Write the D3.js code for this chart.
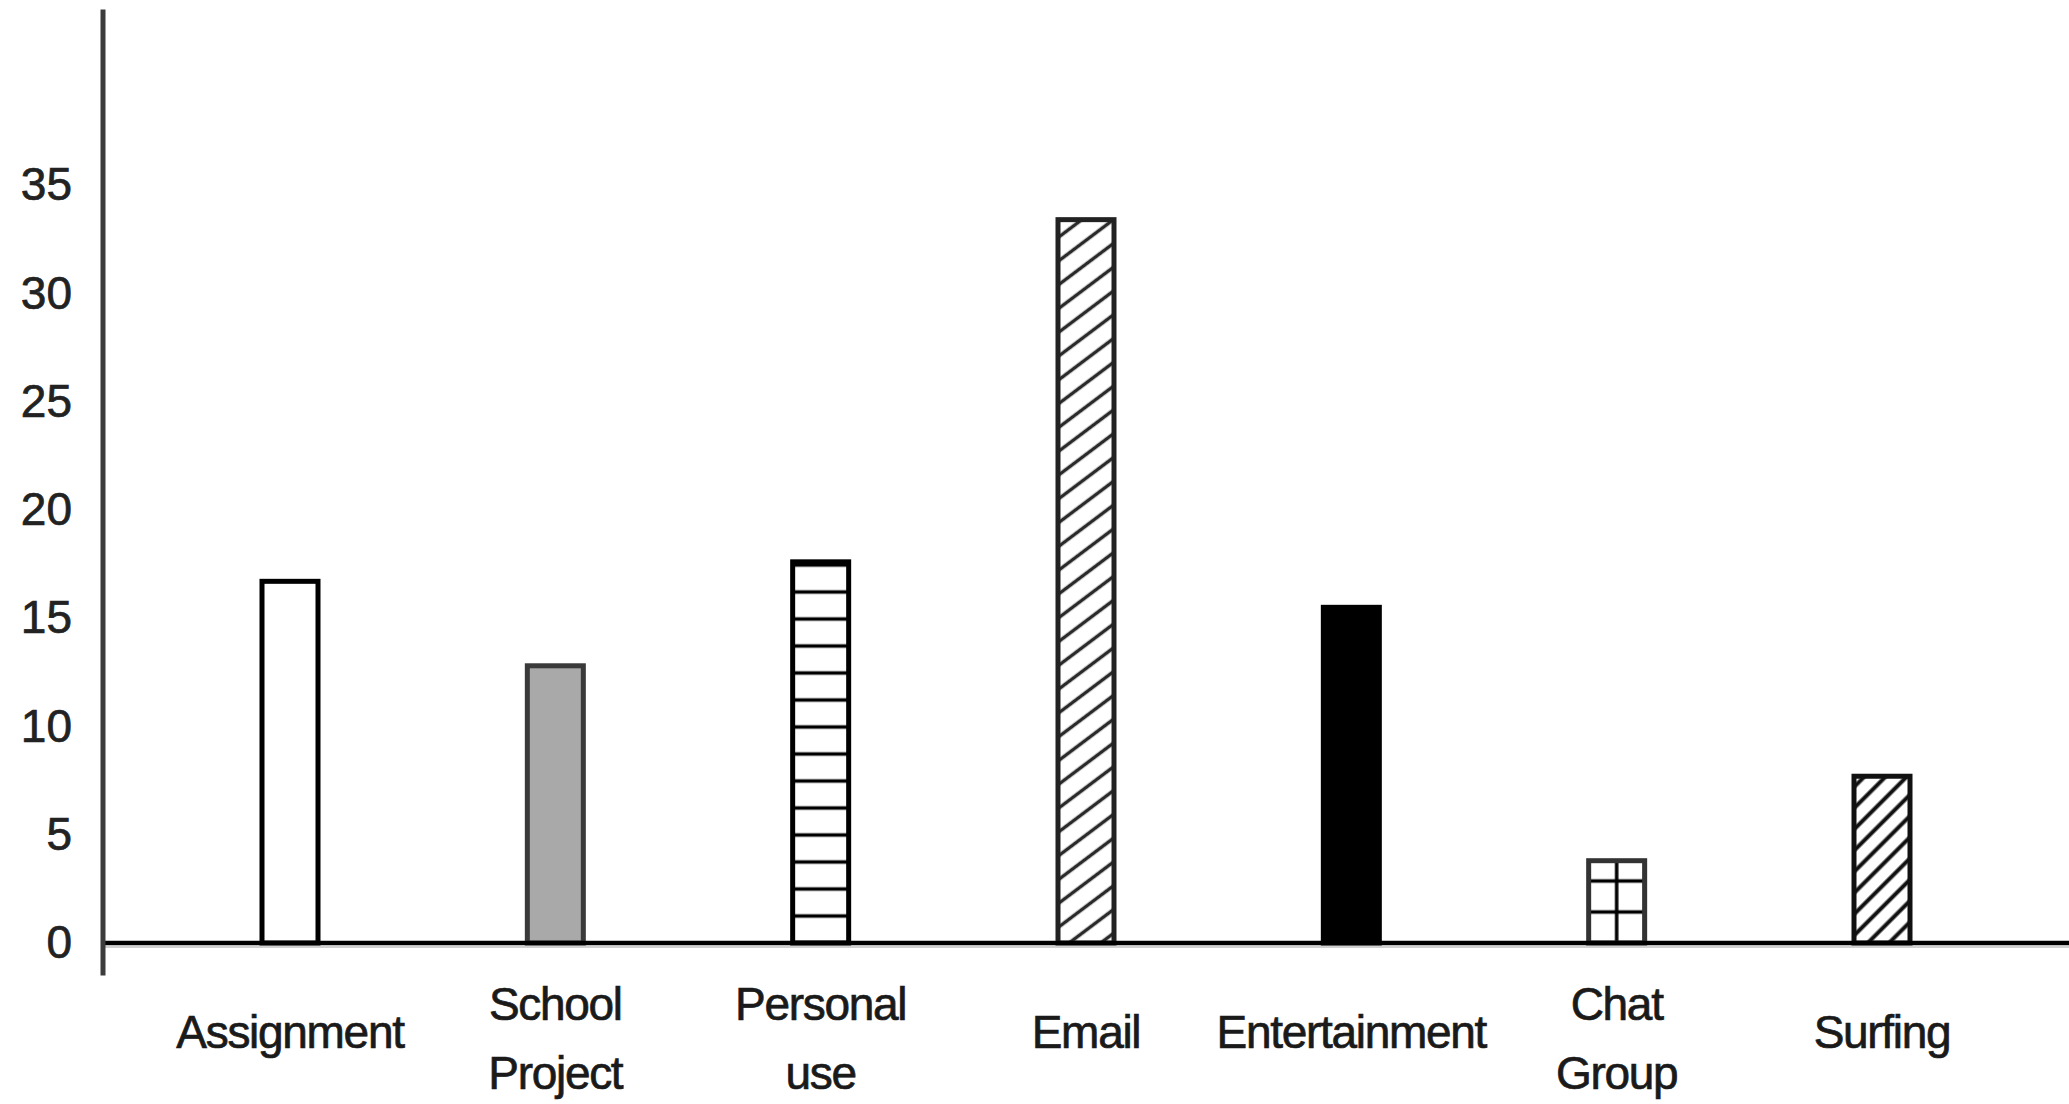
<!DOCTYPE html>
<html>
<head>
<meta charset="utf-8">
<script src="https://cdn.jsdelivr.net/npm/d3@7"></script>
<style>
	body { margin: 0; background: #fff; }
	svg { display: block; }
	.yaxis text {
		font-family: "Liberation Sans", Arial, sans-serif;
		font-size: 46px;
		fill: #222;
		stroke: #222;
		stroke-width: 0.7px;
	}
	.xlab {
		font-family: "Liberation Sans", Arial, sans-serif;
		font-size: 46px;
		fill: #1a1a1a;
		stroke: #1a1a1a;
		stroke-width: 0.7px;
		letter-spacing: -1.3px;
	}
</style>
</head>
<body>
<div id="chart"></div>
<script>
// datos
const categories = ["Assignment", "School Project", "Personal use", "Email", "Entertainment", "Chat Group", "Surfing"];
const values = [16.7, 12.8, 17.6, 33.4, 15.5, 3.8, 7.7];
const yTicks = [0, 5, 10, 15, 20, 25, 30, 35];

window.onload = function() {
	let width = 2069, height = 1104;
	let axisX = 103, baseY = 943;
	let barW = 56;

	let x = d3.scalePoint().domain(categories).range([290, 1882]);
	let y = d3.scaleLinear().domain([0, 35]).range([baseY, 185]);

	let svg = d3.select("#chart").append("svg")
		.attr("width", width)
		.attr("height", height);

	// tramas
	let defs = svg.append("defs");
	defs.append("pattern").attr("id", "hl")
		.attr("patternUnits", "userSpaceOnUse")
		.attr("width", 20).attr("height", 27)
		.attr("y", baseY + 13.5)
		.append("path").attr("d", "M0,13.5H20")
		.attr("stroke", "#000").attr("stroke-width", 3.5);
	defs.append("pattern").attr("id", "grid")
		.attr("patternUnits", "userSpaceOnUse")
		.attr("width", 28).attr("height", 31)
		.attr("x", x("Chat Group") + 14).attr("y", baseY + 15.5)
		.append("path").attr("d", "M14,0V31M0,15.5H28")
		.attr("stroke", "#000").attr("stroke-width", 3.5);
	defs.append("pattern").attr("id", "dg1")
		.attr("patternUnits", "userSpaceOnUse")
		.attr("width", 20).attr("height", 19)
		.attr("patternTransform", "rotate(-37)")
		.append("path").attr("d", "M0,9.5H20")
		.attr("stroke", "#2a2a2a").attr("stroke-width", 3.5);
	defs.append("pattern").attr("id", "dg2")
		.attr("patternUnits", "userSpaceOnUse")
		.attr("width", 20).attr("height", 15)
		.attr("patternTransform", "rotate(-45)")
		.append("path").attr("d", "M0,7.5H20")
		.attr("stroke", "#111").attr("stroke-width", 4);

	let fills = ["#fff", "#a9a9a9", "url(#hl)", "url(#dg1)", "#000", "url(#grid)", "url(#dg2)"];
	let strokes = ["#000", "#3a3a3a", "#000", "#222", "#000", "#333", "#111"];

	// barras
	svg.append("g").selectAll("rect")
		.data(categories)
		.enter().append("rect")
		.attr("x", function(d) { return x(d) - barW / 2; })
		.attr("y", function(d, i) { return y(values[i]); })
		.attr("width", barW)
		.attr("height", function(d, i) { return y(0) - y(values[i]); })
		.attr("fill", function(d, i) { return fills[i]; })
		.attr("stroke", function(d, i) { return strokes[i]; })
		.attr("stroke-width", 5);

	// eje y
	let yAxis = d3.axisLeft(y).tickValues(yTicks).tickSize(0).tickPadding(31);
	let yg = svg.append("g").attr("class", "yaxis")
		.attr("transform", "translate(" + axisX + ",0)")
		.call(yAxis);
	yg.select(".domain").remove();

	// lineas de ejes
	svg.append("line")
		.attr("x1", axisX).attr("x2", width)
		.attr("y1", baseY + 4).attr("y2", baseY + 4)
		.attr("stroke", "#d0d0d0").attr("stroke-width", 2);
	svg.append("line")
		.attr("x1", axisX).attr("x2", width)
		.attr("y1", baseY).attr("y2", baseY)
		.attr("stroke", "#000").attr("stroke-width", 4.5);
	svg.append("line")
		.attr("x1", axisX).attr("x2", axisX)
		.attr("y1", y(43.1)).attr("y2", y(-1.5))
		.attr("stroke", "#3c3c3c").attr("stroke-width", 5);

	// etiquetas x
	let labels = svg.append("g").selectAll("text")
		.data(categories)
		.enter().append("text")
		.attr("class", "xlab")
		.attr("text-anchor", "middle")
		.attr("x", function(d) { return x(d); })
		.attr("y", function(d) { return d.split(" ").length > 1 ? 1020 : 1048; });
	labels.selectAll("tspan")
		.data(function(d) { return d.split(" ").map(function(w) { return { w: w, c: d }; }); })
		.enter().append("tspan")
		.attr("x", function(d) { return x(d.c); })
		.attr("dy", function(d, i) { return i ? 69 : 0; })
		.text(function(d) { return d.w; });
};
</script>
</body>
</html>
